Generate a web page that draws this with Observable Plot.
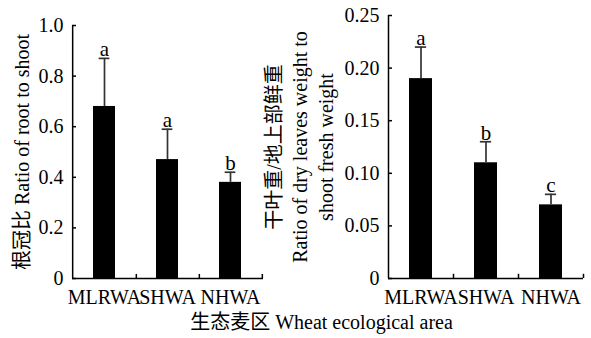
<!DOCTYPE html>
<html>
<head>
<meta charset="utf-8">
<script src="https://cdn.jsdelivr.net/npm/d3@7"></script>
<script src="https://cdn.jsdelivr.net/npm/@observablehq/plot@0.6"></script>
<style>
  html, body { margin: 0; padding: 0; background: #fff; }
  #wrap { position: relative; width: 591px; height: 338px; overflow: hidden; background: #fff;
    font-family: 'Liberation Serif', 'Noto Sans CJK SC', serif; color: #000; }
  #wrap svg, #wrap svg text { font-family: 'Liberation Serif', 'Noto Sans CJK SC', serif !important; font-variant-numeric: normal !important; }
  #left, #right { position: absolute; top: 0; }
  #left { left: 0; }
  #right { left: 300px; }
  #xtitle { position: absolute; left: 0; width: 643px; top: 312px; text-align: center; font-size: 20px; line-height: 20px; white-space: nowrap; }
</style>
</head>
<body>
<div id="wrap">
  <div id="left"></div>
  <div id="right"></div>
  <div id="xtitle">生态麦区 Wheat ecological area</div>
</div>
<script>
const categories = ["MLRWA", "SHWA", "NHWA"];

// Left panel: root/shoot ratio
const rootShoot = [0.68, 0.47, 0.38];
const rootShootErr = [0.19, 0.12, 0.04];
const rootShootLetters = ["a", "a", "b"];
const leftTicks = [0, 0.2, 0.4, 0.6, 0.8, 1.0];
const leftTickLabels = ["0", "0.2", "0.4", "0.6", "0.8", "1.0"];
const leftYLabel = ["根冠比 Ratio of root to shoot"];

// Right panel: dry leaves / shoot fresh weight
const dryLeaf = [0.19, 0.11, 0.07];
const dryLeafErr = [0.03, 0.02, 0.01];
const dryLeafLetters = ["a", "b", "c"];
const rightTicks = [0, 0.05, 0.10, 0.15, 0.20, 0.25];
const rightTickLabels = ["0", "0.05", "0.10", "0.15", "0.20", "0.25"];
const rightYLabel = ["干叶重/地上部鲜重", "Ratio of dry leaves weight to", "shoot fresh weight"];

const FONT = "'Liberation Serif', 'Noto Sans CJK SC', serif";

function panel({values, errs, letters, ticks, tickLabels, yMax, width, height, mt, mb, ml, mr, labelLines, labelDx, labelGap}) {
  const data = categories.map((c, i) => ({cat: c, v: values[i], e: values[i] + errs[i], L: letters[i]}));
  const plotW = width - ml - mr;
  const step = plotW / categories.length;
  const bw = step * 0.35;
  const capInset = (bw - 11) / 2;
  const labelMarks = labelLines.map((t, i) =>
    Plot.text([t], {frameAnchor: "left", text: d => d, rotate: -90, dx: labelDx + i * labelGap,
      fontSize: 20, fill: "#000", textAnchor: "middle", lineAnchor: "middle", fontFamily: FONT})
  );
  return Plot.plot({
    width, height,
    marginTop: mt, marginBottom: mb, marginLeft: ml, marginRight: mr,
    style: {fontFamily: FONT, fontSize: "20px", background: "transparent", color: "#000", overflow: "visible"},
    x: {domain: categories, paddingInner: 0.65, paddingOuter: 0.325, label: null},
    y: {domain: [0, yMax], label: null},
    marks: [
      Plot.barY(data, {x: "cat", y: "v", fill: "#000"}),
      Plot.ruleX(data, {x: "cat", y1: "v", y2: "e", stroke: "#333", strokeWidth: 1.7}),
      Plot.tickY(data, {x: "cat", y: "e", stroke: "#333", strokeWidth: 1.7, insetLeft: capInset, insetRight: capInset}),
      Plot.text(data, {x: "cat", y: "e", text: "L", dy: -2, lineAnchor: "bottom", fontSize: 21, fill: "#000", fontFamily: FONT}),
      // axis lines
      Plot.ruleY([0], {stroke: "#000", strokeWidth: 1.5}),
      Plot.ruleX([categories[0]], {x: d => d, dx: -step / 2, y1: 0, y2: yMax, stroke: "#000", strokeWidth: 1.5}),
      // y ticks pointing inward
      Plot.tickY(ticks, {y: d => d, insetRight: plotW - 4, stroke: "#000", strokeWidth: 1.5}),
      // x ticks at category boundaries pointing inward
      Plot.ruleX(categories, {x: d => d, dx: step / 2, y1: 0, y2: yMax * 0.016, stroke: "#000", strokeWidth: 1.5}),
      Plot.axisY({ticks, tickSize: 0, tickPadding: 9, tickFormat: d => tickLabels[ticks.indexOf(d)], fontSize: 20, fontFamily: FONT, label: null}),
      Plot.axisX({tickSize: 0, tickPadding: 11, fontSize: 20, fontFamily: FONT, label: null}),
      ...labelMarks
    ]
  });
}

document.getElementById("left").append(panel({
  values: rootShoot, errs: rootShootErr, letters: rootShootLetters,
  ticks: leftTicks, tickLabels: leftTickLabels, yMax: 1.0,
  width: 300, height: 338, mt: 25, mb: 60, ml: 72, mr: 37,
  labelLines: leftYLabel, labelDx: -50, labelGap: 0
}));

document.getElementById("right").append(panel({
  values: dryLeaf, errs: dryLeafErr, letters: dryLeafLetters,
  ticks: rightTicks, tickLabels: rightTickLabels, yMax: 0.25,
  width: 291, height: 338, mt: 15, mb: 60, ml: 88, mr: 8,
  labelLines: rightYLabel, labelDx: -114, labelGap: 26
}));
</script>
</body>
</html>
